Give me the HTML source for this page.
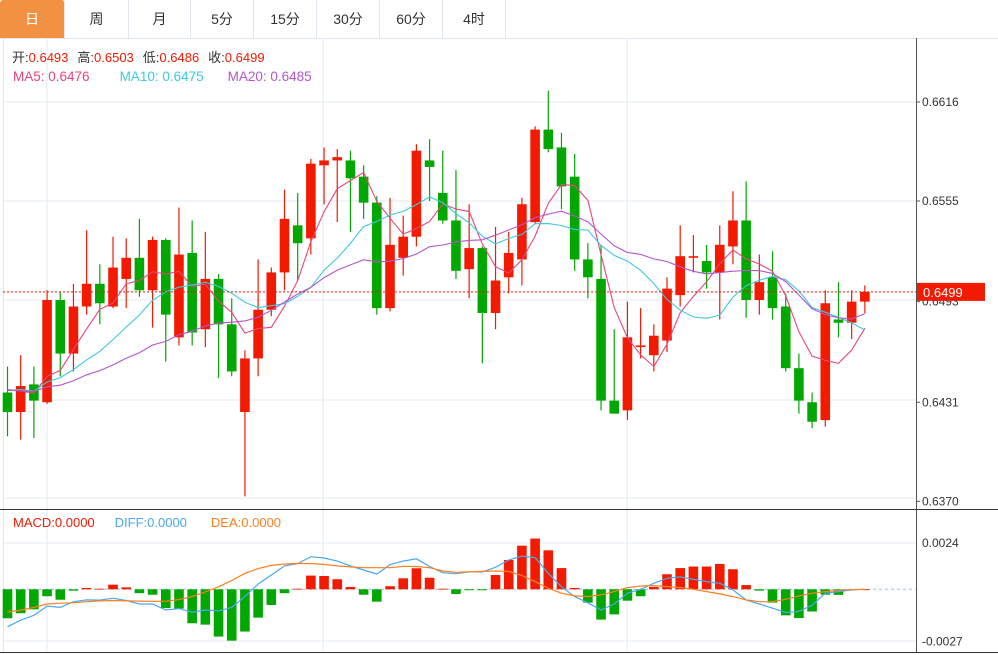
<!DOCTYPE html>
<html><head><meta charset="utf-8"><style>
body{margin:0;width:998px;height:655px;background:#fff;overflow:hidden;font-family:"Liberation Sans","Noto Sans CJK SC",sans-serif;}
.tabs{position:absolute;left:0;top:0;height:38px;width:998px;border-bottom:1px solid #dfe6ee;}
.tab{position:absolute;top:0;height:38px;line-height:38px;text-align:center;font-size:14px;color:#333;border-right:1px solid #dfe6ee;box-sizing:border-box;}
.tab.on{background:#f39143;color:#fff;border-radius:3px 3px 0 0;}
svg{position:absolute;left:0;top:0;}
</style></head><body>
<div class="tabs">
<div class="tab on" style="left:0;width:65px">日</div>
<div class="tab" style="left:65px;width:64px">周</div>
<div class="tab" style="left:129px;width:62px">月</div>
<div class="tab" style="left:191px;width:63px">5分</div>
<div class="tab" style="left:254px;width:63px">15分</div>
<div class="tab" style="left:317px;width:63px">30分</div>
<div class="tab" style="left:380px;width:63px">60分</div>
<div class="tab" style="left:443px;width:63px">4时</div>
</div>
<svg id="chart" width="998" height="655" style="top:0"></svg>
<script>
const opens=[0.6437,0.6425,0.6442,0.6431,0.6494,0.6461,0.6490,0.6504,0.6490,0.6507,0.6520,0.6500,0.6531,0.6471,0.6523,0.6476,0.6507,0.6479,0.6425,0.6458,0.6488,0.6511,0.6540,0.6532,0.6577,0.6580,0.6580,0.6570,0.6554,0.6489,0.6520,0.6533,0.6580,0.6560,0.6543,0.6513,0.6526,0.6486,0.6508,0.6519,0.6542,0.6599,0.6588,0.6570,0.6519,0.6507,0.6432,0.6426,0.6465,0.6460,0.6469,0.6497,0.6520,0.6518,0.6511,0.6527,0.6543,0.6494,0.6508,0.6490,0.6452,0.6431,0.6420,0.6482,0.6480,0.6493];
const highs=[0.6453,0.6460,0.6453,0.6500,0.6499,0.6504,0.6537,0.6516,0.6533,0.6532,0.6544,0.6533,0.6532,0.6551,0.6543,0.6536,0.6510,0.6495,0.6463,0.6519,0.6514,0.6562,0.6560,0.6581,0.6588,0.6587,0.6586,0.6577,0.6558,0.6557,0.6546,0.6590,0.6593,0.6586,0.6574,0.6553,0.6527,0.6539,0.6536,0.6557,0.6601,0.6623,0.6597,0.6584,0.6529,0.6528,0.6476,0.6493,0.6489,0.6479,0.6508,0.6540,0.6534,0.6528,0.6540,0.6561,0.6567,0.6522,0.6524,0.6498,0.6461,0.6437,0.6500,0.6505,0.6500,0.6503];
const lows=[0.6410,0.6408,0.6409,0.6430,0.6447,0.6450,0.6485,0.6479,0.6489,0.6489,0.6496,0.6477,0.6456,0.6466,0.6466,0.6465,0.6446,0.6447,0.6373,0.6447,0.6484,0.6500,0.6506,0.6522,0.6553,0.6542,0.6536,0.6544,0.6485,0.6487,0.6509,0.6527,0.6555,0.6541,0.6507,0.6495,0.6455,0.6476,0.6498,0.6503,0.6541,0.6585,0.6550,0.6512,0.6495,0.6426,0.6424,0.6420,0.6458,0.6450,0.6462,0.6490,0.6511,0.6501,0.6482,0.6516,0.6483,0.6485,0.6482,0.6450,0.6424,0.6415,0.6416,0.6471,0.6470,0.6486];
const closes=[0.6425,0.6441,0.6432,0.6494,0.6461,0.6490,0.6504,0.6492,0.6514,0.6520,0.6500,0.6531,0.6485,0.6522,0.6474,0.6507,0.6479,0.6450,0.6458,0.6488,0.6511,0.6544,0.6529,0.6578,0.6580,0.6582,0.6569,0.6554,0.6489,0.6528,0.6533,0.6586,0.6576,0.6543,0.6512,0.6526,0.6486,0.6506,0.6523,0.6553,0.6599,0.6587,0.6564,0.6519,0.6508,0.6432,0.6424,0.6471,0.6466,0.6472,0.6501,0.6521,0.6521,0.6511,0.6528,0.6543,0.6494,0.6505,0.6489,0.6452,0.6432,0.6419,0.6492,0.6480,0.6493,0.6499];
const priorCloses=[0.6445,0.6440,0.6438,0.6442,0.6436,0.6430,0.6440,0.6444,0.6437,0.6432,0.6436,0.6441,0.6438,0.6434,0.6440,0.6445,0.6439,0.6442,0.6443];
const macdBars=[-0.00150,-0.00124,-0.00104,-0.00036,-0.00054,-0.00007,0.00007,0.00003,0.00024,0.0001,-0.0002,-0.00028,-0.00097,-0.001,-0.00176,-0.00183,-0.00245,-0.00266,-0.00219,-0.00147,-0.00081,-0.0002,0.00003,0.00071,0.00069,0.00052,0.00012,-0.00028,-0.00064,0.00016,0.00057,0.00109,0.0006,0.00003,-0.00024,-0.00005,-0.00005,0.00074,0.00152,0.00226,0.00263,0.00202,0.0011,0.00007,-0.00069,-0.00157,-0.0013,-0.00059,-0.00036,0.00012,0.00078,0.0011,0.00118,0.00118,0.00131,0.00104,0.00022,-0.00007,-0.00069,-0.00135,-0.00149,-0.00115,-0.00028,-0.00029,-0.00002,0];
const diffVals=[-0.00194,-0.0016,-0.00135,-0.00087,-0.00094,-0.00064,-0.00055,-0.00056,-0.00046,-0.00058,-0.00076,-0.00076,-0.00107,-0.001,-0.00119,-0.00107,-0.00112,-0.00094,-0.00038,0.00027,0.00074,0.00121,0.00133,0.00169,0.00162,0.00146,0.00121,0.001,0.00079,0.00128,0.00146,0.00158,0.00118,0.00086,0.00081,0.0009,0.0009,0.00114,0.00152,0.00172,0.00164,0.00083,0.00013,-0.00038,-0.0007,-0.00107,-0.00076,-0.0002,0,0.00031,0.00057,0.00064,0.00052,0.0004,0.00031,-0.00003,-0.00055,-0.00076,-0.00098,-0.0012,-0.00114,-0.00083,-0.0002,-0.00012,-0.00003,0];
const deaVals=[-0.00118,-0.00108,-0.00094,-0.00076,-0.00072,-0.0007,-0.00064,-0.0006,-0.00058,-0.0006,-0.00061,-0.00062,-0.00062,-0.00053,-0.00038,-0.00014,0.00013,0.00045,0.00083,0.00107,0.00124,0.00131,0.00134,0.00133,0.00129,0.00121,0.00116,0.00112,0.00112,0.00112,0.00119,0.00118,0.00112,0.00095,0.00088,0.0009,0.00093,0.00095,0.00093,0.00071,0.0004,0.00005,-0.0002,-0.00034,-0.00038,-0.00029,-0.00012,0.00009,0.00017,0.00019,0.00014,0.00009,0,-0.00012,-0.00024,-0.00038,-0.00055,-0.00064,-0.00064,-0.00052,-0.00034,-0.0002,-0.00012,-0.00005,-0.00002,0];
const priceTicks=["0.6616","0.6555","0.6493","0.6431","0.6370"];
const macdTicks=["0.0024","-0.0027"];

const NS="http://www.w3.org/2000/svg";
const svg=document.getElementById('chart');
const RED="#f21a00",GREEN="#02a702";
const xOf=i=>7.5+i*13.19;
const yP=p=>102+(0.6616-p)*16230;
const yM=v=>589.3-v*19300;
function mk(tag,a,parent){const e=document.createElementNS(NS,tag);for(const k in a)e.setAttribute(k,a[k]);(parent||svg).appendChild(e);return e;}
function txt(x,y,s,fill,size,anchor){const t=mk('text',{x:x,y:y,fill:fill,'font-size':size||12,'font-family':'"Liberation Sans","Noto Sans CJK SC",sans-serif','text-anchor':anchor||'start'});t.textContent=s;return t;}

const grid=mk('g',{});


[102,201,300,400,498,543,641].forEach(y=>mk('line',{x1:3,x2:916,y1:y,y2:y,stroke:'#e3eaf1'},grid));
[47,323,627].forEach(x=>mk('line',{x1:x,x2:x,y1:38,y2:652,stroke:'#e3eaf1'},grid));
mk('line',{x1:3.5,x2:3.5,y1:38,y2:652,stroke:'#dfe6ee'},grid);
mk('line',{x1:916.5,x2:916.5,y1:38,y2:652,stroke:'#555'},grid);
mk('line',{x1:0,x2:998,y1:509.5,y2:509.5,stroke:'#333'},grid);
mk('line',{x1:0,x2:998,y1:652.5,y2:652.5,stroke:'#333'},grid);

const pax=mk('g',{});


priceTicks.forEach(t=>{const y=yP(parseFloat(t));mk('line',{x1:916,x2:920,y1:y,y2:y,stroke:'#555'},pax);const e=txt(922,y+4,t,'#333',12,'start');pax.appendChild(e);});
const max=mk('g',{});


macdTicks.forEach(t=>{const y=yM(parseFloat(t));const e=txt(922,y+4,t,'#333',12);max.appendChild(e);});

const cg=mk('g',{});


closes.forEach((c,i)=>{
  const o=opens[i],col=c>=o?RED:GREEN,x=xOf(i);
  const g=mk('g',{},cg);
  
  
  mk('line',{x1:x,x2:x,y1:yP(highs[i]),y2:yP(lows[i]),stroke:col,'stroke-width':1.2},g);
  const t=yP(Math.max(o,c)),b=yP(Math.min(o,c));
  mk('rect',{x:x-4.8,y:t,width:9.6,height:Math.max(1.5,b-t),fill:col},g);
});

const allC=priorCloses.concat(closes);
const off=priorCloses.length;
function ma(n){return closes.map((_,i)=>{const j=i+off;const s=allC.slice(Math.max(0,j-n+1),j+1);return s.reduce((a,b)=>a+b,0)/s.length;});}
[[5,'#e8457e','ma5-line'],[10,'#3ec9dc','ma10-line'],[20,'#b455c9','ma20-line']].forEach(([n,col,name])=>{
  const pts=ma(n).map((v,i)=>xOf(i).toFixed(1)+','+yP(v).toFixed(1)).join(' ');
  const l=mk('polyline',{points:pts,fill:'none',stroke:col,'stroke-width':1.1});
  
  
});

const lp=closes[closes.length-1];
const lpl=mk('line',{x1:3,x2:916,y1:yP(lp),y2:yP(lp),stroke:RED,'stroke-dasharray':'2,2'});


const tag=mk('rect',{x:917,y:yP(lp)-9,width:68,height:18,fill:RED});


txt(923,yP(lp)+5,lp.toFixed(4),'#fff',13);

mk('line',{x1:3,x2:916,y1:yM(0),y2:yM(0),stroke:'#8fc8e8','stroke-dasharray':'3,3'});
const mg=mk('g',{});


macdBars.forEach((v,i)=>{
  const y0=yM(0),y1=yM(v);
  const r=mk('rect',{x:xOf(i)-4.8,y:Math.min(y0,y1),width:9.6,height:Math.max(0.8,Math.abs(y1-y0)),fill:v>=0?RED:GREEN},mg);
  
});
[[diffVals,'#4aa8f0','diff-line'],[deaVals,'#ff7f1e','dea-line']].forEach(([arr,col,name])=>{
  const l=mk('polyline',{points:arr.map((v,i)=>xOf(i).toFixed(1)+','+yM(v).toFixed(1)).join(' '),fill:'none',stroke:col,'stroke-width':1.2});
  
  
});

const lg=mk('g',{});


let t;
t=mk('text',{x:12,y:62,'font-size':13,'font-family':'"Liberation Sans","Noto Sans CJK SC",sans-serif'},lg);
t.innerHTML='<tspan fill="#333">开:</tspan><tspan fill="#f21a00">0.6493</tspan><tspan fill="#333" dx="9">高:</tspan><tspan fill="#f21a00">0.6503</tspan><tspan fill="#333" dx="9">低:</tspan><tspan fill="#f21a00">0.6486</tspan><tspan fill="#333" dx="9">收:</tspan><tspan fill="#f21a00">0.6499</tspan>';
t=mk('text',{x:13,y:81,'font-size':13.5,'font-family':'"Liberation Sans",sans-serif'},lg);
t.innerHTML='<tspan fill="#e8457e">MA5: 0.6476</tspan><tspan fill="#3ec9dc" dx="30">MA10: 0.6475</tspan><tspan fill="#b455c9" dx="24">MA20: 0.6485</tspan>';
const ml=mk('text',{x:13,y:527,'font-size':13,'font-family':'"Liberation Sans",sans-serif'});


ml.innerHTML='<tspan fill="#f21a00">MACD:0.0000</tspan><tspan fill="#4aa8f0" dx="20">DIFF:0.0000</tspan><tspan fill="#ff7f1e" dx="24">DEA:0.0000</tspan>';
</script>
</body></html>
